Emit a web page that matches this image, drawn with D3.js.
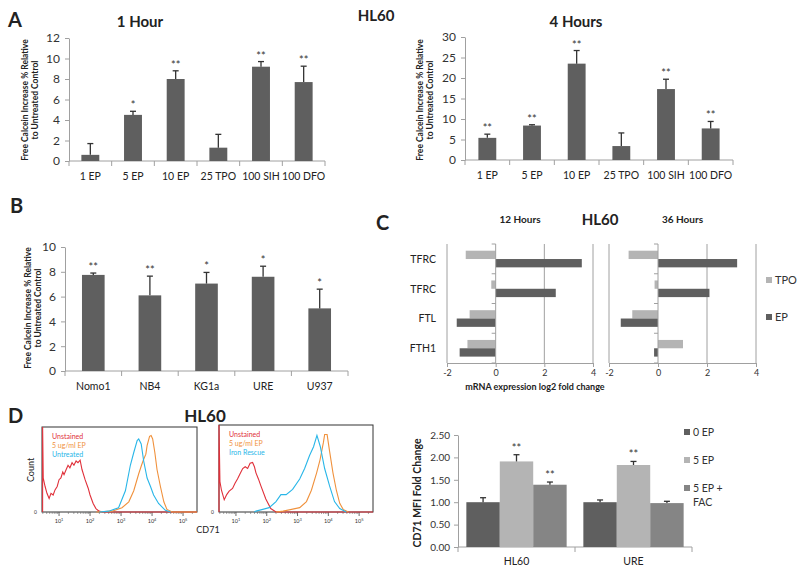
<!DOCTYPE html>
<html><head><meta charset="utf-8">
<script src="https://cdn.jsdelivr.net/npm/d3@7"></script>
<style>body{margin:0;background:#fff} svg{font-family:Lato,"Open Sans",sans-serif}</style>
</head><body><svg id="c" width="800" height="570"></svg>
<script>
// ---------- DATA ----------
const treatments = ["1 EP","5 EP","10 EP","25 TPO","100 SIH","100 DFO"];
const hour1Vals = [0.6,4.5,8.0,1.3,9.2,7.7];
const hour1Err  = [1.1,0.35,0.8,1.3,0.5,1.55];
const hour1Sig  = ["","*","**","","**","**"];
const hour1Ticks = [0,2,4,6,8,10,12];
const hour4Vals = [5.4,8.4,23.5,3.4,17.3,7.7];
const hour4Err  = [0.9,0.2,3.2,3.2,2.4,1.7];
const hour4Sig  = ["**","**","**","","**","**"];
const hour4Ticks = [0,5,10,15,20,25,30];

const cellLines = ["Nomo1","NB4","KG1a","URE","U937"];
const cellVals  = [7.75,6.1,7.05,7.6,5.05];
const cellErr   = [0.15,1.55,0.9,0.85,1.55];
const cellSig   = ["**","**","*","*","*"];
const cellTicks = [0,2,4,6,8,10];

const genes = ["TFRC","TFRC","FTL","FTH1"];
const tpo12 = [-1.23,-0.18,-1.07,-1.16];
const ep12  = [3.54,2.47,-1.6,-1.48];
const tpo36 = [-1.2,-0.14,-1.05,1.02];
const ep36  = [3.23,2.1,-1.52,-0.16];
const foldTicks = [-2,0,2,4];
const mrnaSeries = ["TPO","EP"];

const cd71Groups = ["HL60","URE"];
const cd71Series = ["0 EP","5 EP","5 EP + FAC"];
const cd71Vals = [[1.0,1.91,1.39],[1.0,1.83,0.98]];
const cd71Err  = [[0.1,0.15,0.06],[0.05,0.08,0.04]];
const cd71Sig  = [["","**","**"],["","**",""]];
const cd71Ticks = [0,0.5,1,1.5,2,2.5];

// flow histograms: [log10 CD71, relative count]
const unstained1 = [[0.47,0],[0.47,1.0],[0.49,0.4],[0.55,0.3],[0.61,0.22],[0.68,0.16],[0.74,0.22],[0.81,0.2],[0.87,0.26],[0.94,0.3],[1.0,0.38],[1.06,0.4],[1.12,0.47],[1.16,0.44],[1.23,0.5],[1.29,0.55],[1.35,0.52],[1.42,0.58],[1.48,0.55],[1.55,0.6],[1.61,0.58],[1.68,0.61],[1.74,0.5],[1.84,0.38],[1.94,0.28],[2.0,0.2],[2.1,0.1],[2.19,0.04],[2.29,0.01],[2.4,0],[5.45,0]];
const ep1 = [[2.2,0],[2.71,0.01],[3.03,0.05],[3.25,0.12],[3.41,0.25],[3.57,0.45],[3.66,0.55],[3.73,0.62],[3.8,0.68],[3.84,0.78],[3.92,0.89],[3.97,0.9],[4.02,0.86],[4.09,0.7],[4.16,0.5],[4.27,0.3],[4.38,0.12],[4.48,0.03],[4.65,0],[5.45,0]];
const untreated1 = [[2.3,0],[2.6,0.01],[2.92,0.05],[3.14,0.25],[3.3,0.55],[3.41,0.7],[3.52,0.84],[3.57,0.86],[3.65,0.8],[3.73,0.6],[3.84,0.4],[3.95,0.3],[4.05,0.2],[4.21,0.1],[4.43,0.02],[4.6,0]];
const unstained2 = [[0.45,0],[0.45,1.0],[0.48,0.35],[0.53,0.25],[0.62,0.14],[0.7,0.2],[0.78,0.24],[0.89,0.27],[0.97,0.33],[1.05,0.38],[1.15,0.45],[1.22,0.5],[1.3,0.52],[1.38,0.5],[1.46,0.56],[1.54,0.57],[1.6,0.52],[1.65,0.45],[1.73,0.38],[1.81,0.3],[1.97,0.15],[2.13,0.04],[2.3,0],[5.45,0]];
const ep2 = [[2.3,0],[2.53,0.01],[3.07,0.05],[3.29,0.12],[3.45,0.25],[3.62,0.45],[3.73,0.6],[3.84,0.8],[3.88,0.89],[3.96,0.89],[4.04,0.7],[4.15,0.45],[4.26,0.25],[4.37,0.1],[4.48,0.03],[4.65,0]];
const rescue2 = [[1.6,0],[1.65,0.01],[2.08,0.05],[2.3,0.12],[2.46,0.2],[2.63,0.2],[2.84,0.26],[3.07,0.38],[3.23,0.5],[3.39,0.65],[3.52,0.75],[3.63,0.88],[3.74,0.75],[3.88,0.5],[4.04,0.3],[4.2,0.12],[4.37,0.04],[4.58,0]];
const flowDecades = [1,2,3,4,5];

// ---------- DRAW ----------
const svg = d3.select("#c");
const AX = "#a0a0a0", BAR = "#5f5f5f", LIGHT = "#b4b4b4", MID = "#858585", TXT = "#222";

function txt(x,y,s,size,opt={}){
  const t = svg.append("text").attr("x",x).attr("y",y).text(s)
    .attr("font-size",size).attr("fill",opt.fill||TXT)
    .attr("text-anchor",opt.anchor||"middle").attr("font-weight",opt.bold?"bold":"normal");
  return t;
}
function rotLabel(x,y,lines,size){
  const g = svg.append("g").attr("transform",`translate(${x},${y}) rotate(-90)`);
  lines.forEach((l,i)=>g.append("text").attr("x",0).attr("y",i*(size+1.5)).text(l)
    .attr("font-size",size).attr("font-weight","bold").attr("text-anchor","middle").attr("fill",TXT));
}
function styleAxis(a,fs){
  a.select(".domain").attr("stroke",AX);
  a.selectAll(".tick line").attr("stroke",AX);
  a.selectAll(".tick text").attr("font-size",fs).attr("fill","#333").attr("font-family","Lato,'Open Sans',sans-serif");
}

function vbar(o){
  const g = svg.append("g");
  const x = d3.scaleBand().domain(o.cats).range([o.left,o.right]);
  const y = d3.scaleLinear().domain([0,o.max]).range([o.bottom,o.top]);
  const ya = g.append("g").attr("transform",`translate(${o.left},0)`)
    .call(d3.axisLeft(y).tickValues(o.ticks).tickSize(4).tickPadding(5).tickSizeOuter(0).tickFormat(o.fmt||d3.format("d")));
  styleAxis(ya,o.tfs||12);
  g.append("line").attr("x1",o.left).attr("x2",o.right).attr("y1",o.bottom).attr("y2",o.bottom).attr("stroke",AX);
  g.selectAll(".bt").data(d3.range(o.cats.length+1)).join("line")
    .attr("x1",i=>o.left+i*x.step()).attr("x2",i=>o.left+i*x.step())
    .attr("y1",o.bottom).attr("y2",o.bottom+5).attr("stroke",AX);
  const bw = x.bandwidth()*o.frac, off=(x.bandwidth()-bw)/2;
  g.selectAll(".bar").data(o.cats).join("rect")
    .attr("x",c=>x(c)+off).attr("width",bw)
    .attr("y",(c,i)=>y(o.vals[i])).attr("height",(c,i)=>o.bottom-y(o.vals[i])).attr("fill",BAR);
  o.cats.forEach((c,i)=>{
    const cx = x(c)+x.bandwidth()/2, yt=y(o.vals[i]+o.errs[i]);
    g.append("line").attr("x1",cx).attr("x2",cx).attr("y1",y(o.vals[i])).attr("y2",yt).attr("stroke","#333").attr("stroke-width",1.3);
    g.append("line").attr("x1",cx-3).attr("x2",cx+3).attr("y1",yt).attr("y2",yt).attr("stroke","#333").attr("stroke-width",1.3);
    if(o.sig[i]) txt(cx,yt-2,o.sig[i],11,{fill:"#333"});
    txt(cx,o.bottom+19,c,o.lfs||10.5,{fill:"#222"});
  });
}

// Panel A
txt(8,27,"A",20,{bold:true,anchor:"start"});
txt(140,27,"1 Hour",15,{bold:true});
txt(376,21,"HL60",15,{bold:true});
txt(576,27,"4 Hours",15,{bold:true});
vbar({cats:treatments,vals:hour1Vals,errs:hour1Err,sig:hour1Sig,ticks:hour1Ticks,max:12,left:69,right:325,top:38,bottom:161,frac:0.42});
rotLabel(28,100,["Free Calcein Increase % Relative","to Untreated Control"],8.5);
vbar({cats:treatments,vals:hour4Vals,errs:hour4Err,sig:hour4Sig,ticks:hour4Ticks,max:30,left:465,right:733,top:37,bottom:160,frac:0.4});
rotLabel(423,100,["Free Calcein Increase % Relative","to Untreated Control"],8.5);

// Panel B
txt(10,213,"B",20,{bold:true,anchor:"start"});
vbar({cats:cellLines,vals:cellVals,errs:cellErr,sig:cellSig,ticks:cellTicks,max:10,left:65,right:348,top:247,bottom:371,frac:0.4});
rotLabel(31,308,["Free Calcein Increase % Relative","to Untreated Control"],8.5);

// Panel C
txt(376,230,"C",20,{bold:true,anchor:"start"});
txt(600,225,"HL60",15,{bold:true});
function hbar(o){
  const g = svg.append("g");
  const x = d3.scaleLinear().domain([-2,4]).range([o.left,o.right]);
  const y = d3.scaleBand().domain(d3.range(genes.length)).range([o.top,o.bottom]);
  [-2,2,4].forEach(v=>g.append("line").attr("x1",x(v)).attr("x2",x(v)).attr("y1",o.top).attr("y2",o.bottom).attr("stroke",AX));
  const xa = g.append("g").attr("transform",`translate(0,${o.bottom})`)
    .call(d3.axisBottom(x).tickValues(foldTicks).tickSize(4).tickPadding(3).tickSizeOuter(0).tickFormat(d3.format("d")));
  styleAxis(xa,9);
  xa.selectAll(".tick text").text(d=>d<0?"-"+Math.abs(d):d);
  genes.forEach((gname,i)=>{
    const b = y(i), h=y.bandwidth();
    const t = o.tpo[i], e = o.ep[i];
    g.append("rect").attr("x",x(Math.min(0,t))).attr("width",Math.abs(x(t)-x(0))).attr("y",b+h*0.225).attr("height",h*0.28).attr("fill",LIGHT);
    g.append("rect").attr("x",x(Math.min(0,e))).attr("width",Math.abs(x(e)-x(0))).attr("y",b+h*0.505).attr("height",h*0.28).attr("fill",BAR);
    if(o.labels) txt(o.left-11,b+h/2+4,gname,10.5,{anchor:"end"});
  });
  g.append("line").attr("x1",x(0)).attr("x2",x(0)).attr("y1",o.top).attr("y2",o.bottom).attr("stroke",AX);
  g.selectAll(".ct").data(d3.range(genes.length+1)).join("line")
    .attr("x1",x(0)-4).attr("x2",x(0)).attr("y1",i=>o.top+i*y.step()).attr("y2",i=>o.top+i*y.step()).attr("stroke",AX);
  txt((x(-2)+x(4))/2,223,o.title,10,{bold:true});
}
hbar({left:447,right:593,top:244,bottom:363,tpo:tpo12,ep:ep12,labels:true,title:"12 Hours"});
hbar({left:609,right:756,top:244,bottom:363,tpo:tpo36,ep:ep36,labels:false,title:"36 Hours"});
[[LIGHT,280],[BAR,317]].forEach(([c,yy],i)=>{
  svg.append("rect").attr("x",766).attr("y",yy-3).attr("width",6).attr("height",6).attr("fill",c);
  txt(775,yy+4,mrnaSeries[i],11,{anchor:"start",fill:"#333"});
});
txt(535,390,"mRNA expression log2 fold change",9,{bold:true});

// Panel D histograms
txt(8,423,"D",20,{bold:true,anchor:"start"});
txt(205,422,"HL60",17,{bold:true});
function hist(o){
  const g = svg.append("g");
  const x = d3.scaleLinear().domain([0.45,5.45]).range([o.left,o.right]);
  const y = d3.scaleLinear().domain([0,1]).range([o.bottom,o.top]);
  g.append("rect").attr("x",o.left).attr("y",o.top).attr("width",o.right-o.left).attr("height",o.bottom-o.top)
    .attr("fill","none").attr("stroke","#333").attr("stroke-width",1);
  const minor=[];
  for(let d=0; d<=5; d++) for(let k=2;k<=9;k++){const v=d+Math.log10(k); if(v>0.45&&v<5.45) minor.push(v);}
  g.selectAll(".mn").data(minor).join("line").attr("x1",d=>x(d)).attr("x2",d=>x(d)).attr("y1",o.bottom).attr("y2",o.bottom+2).attr("stroke","#666").attr("stroke-width",0.6);
  g.selectAll(".mj").data(flowDecades).join("line").attr("x1",d=>x(d)).attr("x2",d=>x(d)).attr("y1",o.bottom).attr("y2",o.bottom+4).attr("stroke","#444").attr("stroke-width",0.8);
  flowDecades.forEach(d=>{
    const t = g.append("text").attr("x",x(d)).attr("y",o.bottom+11).attr("font-size",5.5).attr("fill","#333").attr("text-anchor","middle");
    t.append("tspan").text("10");
    t.append("tspan").attr("dy",-2.5).attr("font-size",4).text(d);
  });
  g.append("text").attr("x",o.left-5).attr("y",o.bottom+2).attr("font-size",5).attr("fill","#333").attr("text-anchor","end").text("0");
  const line = d3.line().x(d=>x(d[0])).y(d=>y(d[1]));
  o.curves.forEach(c=>g.append("path").attr("d",line(c.data)).attr("fill","none").attr("stroke",c.color).attr("stroke-width",1.1));
  o.curves.forEach((c,i)=>g.append("text").attr("x",o.left+10).attr("y",o.top+12+i*9).attr("font-size",7).attr("fill",c.color).text(c.name));
}
hist({left:42,right:197,top:427,bottom:512,curves:[
  {name:"Unstained",data:unstained1,color:"#e0303a"},
  {name:"5 ug/ml EP",data:ep1,color:"#f0913c"},
  {name:"Untreated",data:untreated1,color:"#29b6e8"}]});
hist({left:219,right:373,top:425,bottom:512,curves:[
  {name:"Unstained",data:unstained2,color:"#e0303a"},
  {name:"5 ug/ml EP",data:ep2,color:"#f0913c"},
  {name:"Iron Rescue",data:rescue2,color:"#29b6e8"}]});
svg.append("g").attr("transform","translate(34,470) rotate(-90)").append("text").attr("text-anchor","middle").attr("font-size",9).attr("fill","#222").text("Count");
txt(208,533,"CD71",9);

// Panel D bar chart
(function(){
  const left=458,right=692,top=435,bottom=547;
  const g = svg.append("g");
  const x0 = d3.scaleBand().domain(cd71Groups).range([left,right]);
  const x1 = d3.scaleBand().domain(cd71Series).range([0,x0.bandwidth()]).paddingOuter(0.25).paddingInner(0);
  const y = d3.scaleLinear().domain([0,2.5]).range([bottom,top]);
  const ya = g.append("g").attr("transform",`translate(${left},0)`)
    .call(d3.axisLeft(y).tickValues(cd71Ticks).tickSize(4).tickPadding(4).tickSizeOuter(0).tickFormat(d3.format(".2f")));
  styleAxis(ya,10);
  g.append("line").attr("x1",left).attr("x2",right).attr("y1",bottom).attr("y2",bottom).attr("stroke",AX);
  g.selectAll(".bt").data(d3.range(cd71Groups.length+1)).join("line")
    .attr("x1",i=>left+i*x0.step()).attr("x2",i=>left+i*x0.step()).attr("y1",bottom).attr("y2",bottom+5).attr("stroke",AX);
  const cols=[BAR,LIGHT,MID];
  cd71Groups.forEach((gr,gi)=>{
    cd71Series.forEach((s,si)=>{
      const v=cd71Vals[gi][si], e=cd71Err[gi][si];
      const bx=x0(gr)+x1(s), bw=x1.bandwidth(), cx=bx+bw/2, yt=y(v+e);
      g.append("rect").attr("x",bx).attr("width",bw).attr("y",y(v)).attr("height",bottom-y(v)).attr("fill",cols[si]);
      g.append("line").attr("x1",cx).attr("x2",cx).attr("y1",y(v)).attr("y2",yt).attr("stroke","#333").attr("stroke-width",1.3);
      g.append("line").attr("x1",cx-3).attr("x2",cx+3).attr("y1",yt).attr("y2",yt).attr("stroke","#333").attr("stroke-width",1.3);
      if(cd71Sig[gi][si]) txt(cx,yt-3,cd71Sig[gi][si],11,{fill:"#333"});
    });
    txt(x0(gr)+x0.bandwidth()/2,565,gr,10.5);
  });
  const ly=[432,460,488];
  cd71Series.forEach((s,i)=>{
    svg.append("rect").attr("x",684).attr("y",ly[i]-3).attr("width",6).attr("height",6).attr("fill",cols[i]);
    if(i<2) txt(693,ly[i]+4,s,10.5,{anchor:"start",fill:"#333"});
  });
  txt(693,ly[2]+4,"5 EP +",10.5,{anchor:"start",fill:"#333"});
  txt(693,ly[2]+18,"FAC",10.5,{anchor:"start",fill:"#333"});
  rotLabel(421,493,["CD71 MFI Fold Change"],10.5);
})();
</script></body></html>
